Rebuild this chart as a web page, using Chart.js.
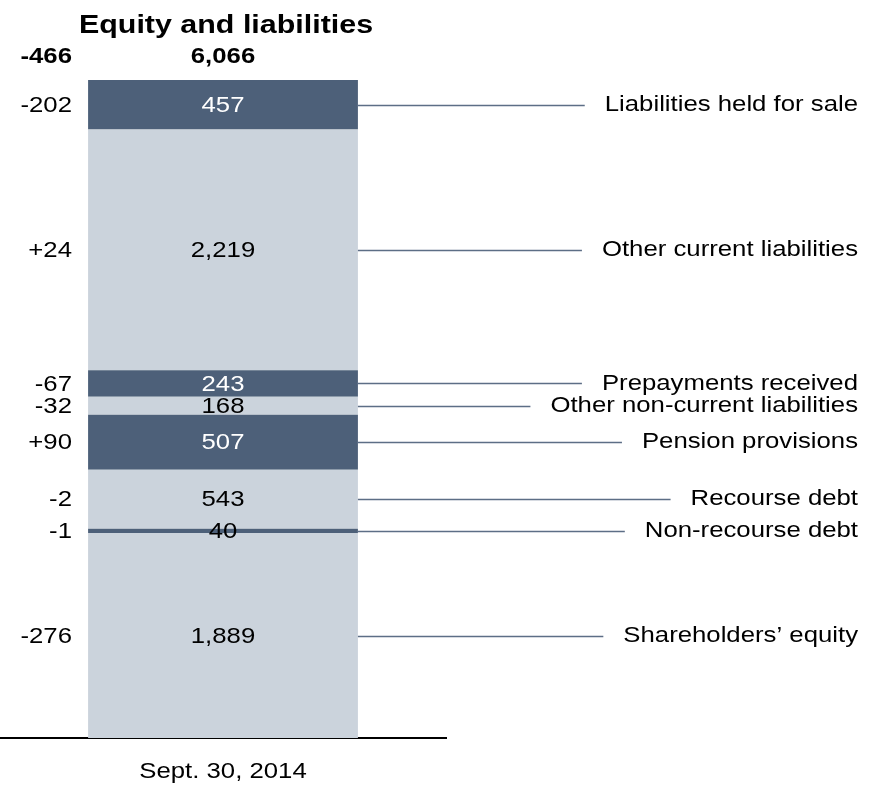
<!DOCTYPE html>
<html>
<head>
<meta charset="utf-8">
<script src="https://cdn.jsdelivr.net/npm/chart.js@4.4.1/dist/chart.umd.min.js"></script>
<style>
html,body{margin:0;padding:0;background:#fff;}
#wrap{width:876px;height:787px;}
</style>
</head>
<body>
<div id="wrap"><canvas id="c" width="876" height="787"></canvas></div>
<script>
// ---- data (bottom to top) ----
const chartTitle = 'Equity and liabilities';
const categories = ['Sept. 30, 2014'];
const itemNames = [
  'Shareholders\u2019 equity',
  'Non-recourse debt',
  'Recourse debt',
  'Pension provisions',
  'Other non-current liabilities',
  'Prepayments received',
  'Other current liabilities',
  'Liabilities held for sale'
];
const itemValues = [1889, 40, 543, 507, 168, 243, 2219, 457];
const changeLabels = ['-276', '-1', '-2', '+90', '-32', '-67', '+24', '-202'];
const totalChangeLabel = '-466';

// ---- styling ----
const FONT = '"Liberation Sans", Arial, Helvetica, sans-serif';
const SX = 1.17;              // horizontal text stretch seen in the reference
const DARK = '#4d6079';
const LIGHT = '#cbd3dc';
const LEADER = '#5d6e86';

const fmt = v => v.toLocaleString('en-US');
const total = itemValues.reduce((a, b) => a + b, 0);

function sText(ctx, t, x, y, align) {
  ctx.save();
  ctx.translate(x, y);
  ctx.scale(SX, 1);
  ctx.textAlign = align;
  ctx.fillText(t, 0, 0);
  ctx.restore();
}

const datasets = itemValues.map((v, i) => ({
  label: itemNames[i],
  data: [v],
  backgroundColor: i % 2 === 0 ? LIGHT : DARK,
  borderWidth: 0,
  stack: 's',
  categoryPercentage: 1,
  barPercentage: 0.605
}));

const textPlugin = {
  id: 'textPlugin',
  afterDraw(chart) {
    const ctx = chart.ctx;
    const xs = chart.scales.x;
    const el0 = chart.getDatasetMeta(0).data[0];
    const cx = el0.x;
    const barRight = el0.x + el0.width / 2;
    ctx.save();
    ctx.fillStyle = '#000';

    // title + header row
    ctx.textBaseline = 'alphabetic';
    ctx.font = 'bold 26px ' + FONT;
    sText(ctx, chartTitle, cx + 3, 33, 'center');
    ctx.font = 'bold 22px ' + FONT;
    sText(ctx, fmt(total), cx, 63, 'center');
    sText(ctx, totalChangeLabel, 72, 63, 'right');

    // segments
    ctx.textBaseline = 'middle';
    ctx.font = '22px ' + FONT;
    itemValues.forEach((v, i) => {
      const el = chart.getDatasetMeta(i).data[0];
      const yMid = (el.y + el.base) / 2;
      const h = Math.abs(el.base - el.y);
      const dark = i % 2 === 1;

      // value inside bar
      ctx.fillStyle = (dark && h >= 18) ? '#ffffff' : '#000000';
      sText(ctx, fmt(v), cx, yMid + 1, 'center');

      // change on the left
      ctx.fillStyle = '#000';
      sText(ctx, changeLabels[i], 72, yMid + 1, 'right');

      // label on the right with leader line
      const w = ctx.measureText(itemNames[i]).width * SX;
      const labelRight = 858;
      const labelLeft = labelRight - w;
      sText(ctx, itemNames[i], labelRight, yMid, 'right');
      ctx.strokeStyle = LEADER;
      ctx.lineWidth = 1.3;
      ctx.beginPath();
      ctx.moveTo(barRight, Math.round(yMid) + 0.5);
      ctx.lineTo(labelLeft - 20, Math.round(yMid) + 0.5);
      ctx.stroke();
    });

    // category label under the axis
    ctx.fillStyle = '#000';
    ctx.textBaseline = 'alphabetic';
    ctx.font = '22px ' + FONT;
    categories.forEach((c, i) => {
      sText(ctx, c, xs.getPixelForTick(i), 778, 'center');
    });
    ctx.restore();
  }
};

new Chart(document.getElementById('c'), {
  type: 'bar',
  data: { labels: categories, datasets },
  options: {
    responsive: false,
    animation: false,
    devicePixelRatio: 1,
    layout: { padding: { top: 80, bottom: 49, left: 0, right: 430 } },
    plugins: { legend: { display: false }, tooltip: { enabled: false }, title: { display: false } },
    scales: {
      x: {
        stacked: true,
        grid: { display: false, drawTicks: false },
        border: { display: true, color: '#000', width: 2 },
        ticks: { display: false }
      },
      y: {
        stacked: true,
        display: false,
        min: 0,
        max: total
      }
    }
  },
  plugins: [textPlugin]
});
</script>
</body>
</html>
